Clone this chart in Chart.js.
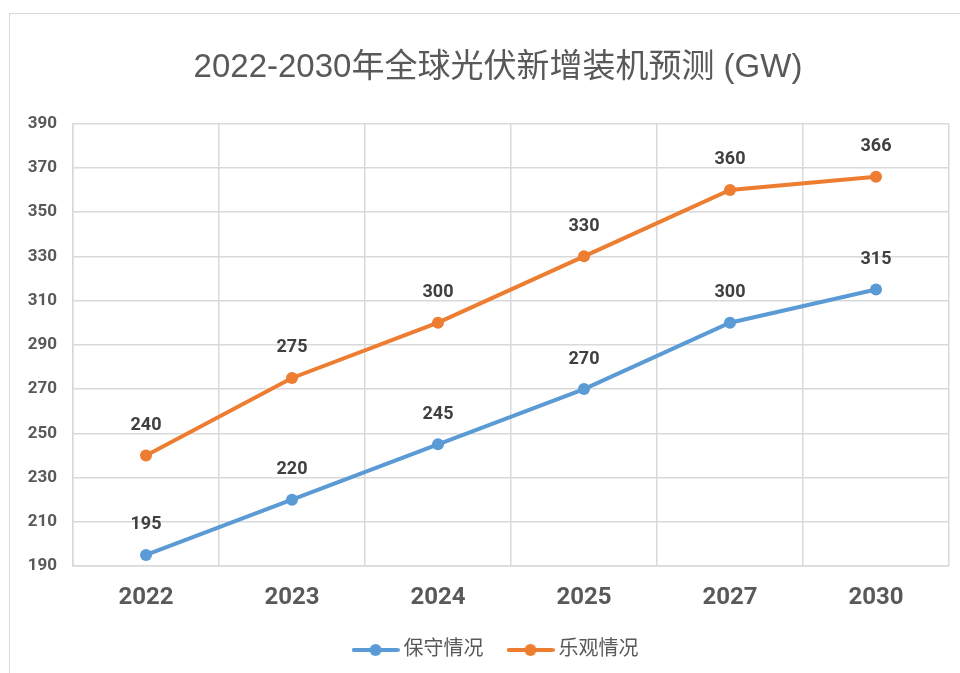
<!DOCTYPE html>
<html>
<head>
<meta charset="utf-8">
<script src="https://cdn.jsdelivr.net/npm/chart.js@4.4.0/dist/chart.umd.min.js"></script>
<style>
  html, body { margin: 0; padding: 0; background: #fff; overflow: hidden; }
  .frame {
    position: absolute; left: 9px; top: 13px;
    width: 978px; height: 659px;
    border-left: 1px solid #d9d9d9; border-top: 1px solid #d9d9d9;
  }
</style>
</head>
<body>
<div class="frame">
  <canvas id="pv-chart"></canvas>
</div>
<script>
const years = ["2022", "2023", "2024", "2025", "2027", "2030"];
const conservative = [195, 220, 245, 270, 300, 315];
const optimistic = [240, 275, 300, 330, 360, 366];
const yMin = 190;
const yMax = 390;
const yStep = 20;

const BLUE = "#5B9BD5";
const ORANGE = "#ED7D31";
const FONT = "Roboto, 'Noto Sans CJK SC', sans-serif";
const TITLE_FONT = "'Liberation Sans', 'Noto Sans CJK SC', sans-serif";

// legend marker: line with a dot in the middle
function legendMarker(color) {
  const c = document.createElement("canvas");
  c.width = 48;
  c.height = 14;
  const g = c.getContext("2d");
  g.strokeStyle = color;
  g.lineWidth = 4;
  g.lineCap = "round";
  g.beginPath();
  g.moveTo(2, 7);
  g.lineTo(46, 7);
  g.stroke();
  g.fillStyle = color;
  g.beginPath();
  g.arc(24, 7, 6, 0, Math.PI * 2);
  g.fill();
  return c;
}

const valueLabels = {
  id: "valueLabels",
  afterDatasetsDraw(chart) {
    const ctx = chart.ctx;
    ctx.save();
    ctx.font = "bold 18px " + FONT;
    ctx.fillStyle = "#404040";
    ctx.textAlign = "center";
    ctx.textBaseline = "middle";
    chart.data.datasets.forEach((ds, i) => {
      chart.getDatasetMeta(i).data.forEach((pt, j) => {
        ctx.fillText(String(ds.data[j]), pt.x, pt.y - 30);
      });
    });
    ctx.restore();
  },
};

// the y axis is narrow so the title sits centred; let its labels use the left margin
const widenYLabels = {
  id: "widenYLabels",
  afterLayout(chart) {
    chart.scales.y.left = 0;
  },
};

const ctx = document.getElementById("pv-chart").getContext("2d");
new Chart(ctx, {
  type: "line",
  data: {
    labels: years,
    datasets: [
      {
        label: "保守情况",
        data: conservative,
        borderColor: BLUE,
        backgroundColor: BLUE,
        borderWidth: 4,
        pointRadius: 6,
        pointBackgroundColor: BLUE,
        pointBorderWidth: 0,
        fill: false,
        tension: 0,
      },
      {
        label: "乐观情况",
        data: optimistic,
        borderColor: ORANGE,
        backgroundColor: ORANGE,
        borderWidth: 4,
        pointRadius: 6,
        pointBackgroundColor: ORANGE,
        pointBorderWidth: 0,
        fill: false,
        tension: 0,
      },
    ],
  },
  options: {
    responsive: true,
    maintainAspectRatio: false,
    animation: false,
    layout: { padding: { left: 37, right: 39, top: 0, bottom: 3 } },
    plugins: {
      title: {
        display: true,
        text: "2022-2030年全球光伏新增装机预测 (GW)",
        color: "#595959",
        font: { family: TITLE_FONT, size: 33, weight: "normal" },
        padding: { top: 34, bottom: 36 },
      },
      legend: {
        display: true,
        position: "bottom",
        labels: {
          usePointStyle: true,
          pointStyleWidth: 36,
          padding: 29,
          color: "#595959",
          font: { family: FONT, size: 20 },
          generateLabels(chart) {
            return chart.data.datasets.map((ds, i) => ({
              text: ds.label,
              fillStyle: ds.borderColor,
              strokeStyle: ds.borderColor,
              lineWidth: 0,
              pointStyle: legendMarker(ds.borderColor),
              fontColor: "#595959",
              hidden: false,
              datasetIndex: i,
            }));
          },
        },
      },
      tooltip: { enabled: false },
    },
    scales: {
      x: {
        offset: true,
        grid: { color: "#d9d9d9", lineWidth: 1.5, offset: true, drawTicks: false },
        border: { color: "#d9d9d9", width: 1.5 },
        ticks: {
          color: "#595959",
          padding: 18,
          font: { family: FONT, size: 24, weight: "bold" },
        },
        afterFit(scale) { scale.height = 45; },
      },
      y: {
        min: yMin,
        max: yMax,
        grid: { color: "#d9d9d9", lineWidth: 1.5, drawTicks: false },
        border: { color: "#d9d9d9", width: 1.5 },
        ticks: {
          stepSize: yStep,
          color: "#595959",
          padding: 16,
          font: { family: FONT, size: 17, weight: "bold" },
        },
        afterFit(scale) { scale.width = 26; },
      },
    },
  },
  plugins: [valueLabels, widenYLabels],
});
</script>
</body>
</html>
